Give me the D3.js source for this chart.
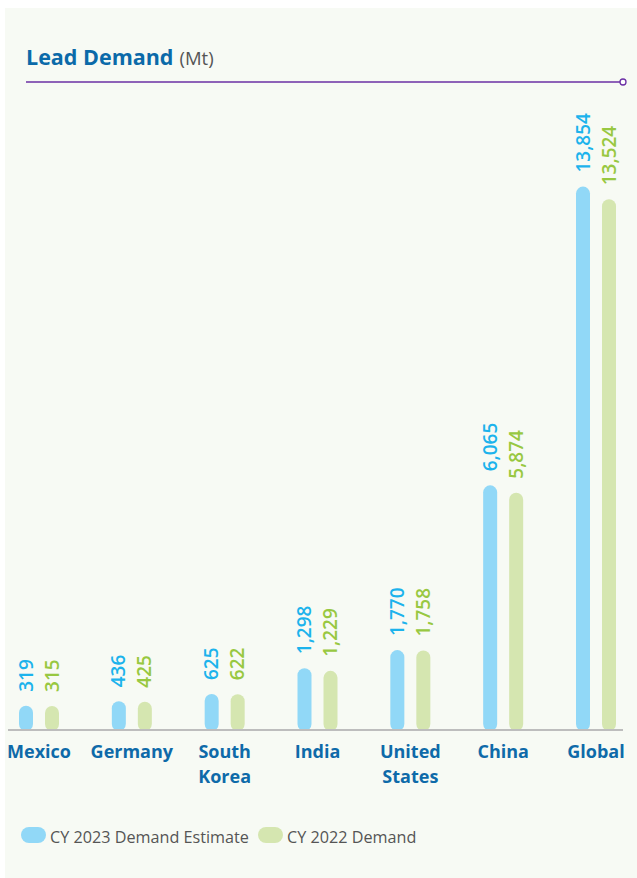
<!DOCTYPE html>
<html>
<head>
<meta charset="utf-8">
<script src="https://cdn.jsdelivr.net/npm/d3@7"></script>
<style>
  body { margin: 0; background: #fff; }
  svg { display: block; font-family: "Open Sans", sans-serif; }
</style>
</head>
<body>
<div id="chart"></div>
<script>
// data
const countries = ["Mexico", "Germany", "South Korea", "India", "United States", "China", "Global"]
const countryLines = [["Mexico"], ["Germany"], ["South", "Korea"], ["India"], ["United", "States"], ["China"], ["Global"]]
const demand2023 = [319, 436, 625, 1298, 1770, 6065, 13854]
const demand2022 = [315, 425, 622, 1229, 1758, 5874, 13524]
const seriesNames = ["CY 2023 Demand Estimate", "CY 2022 Demand"]

const width = 637, height = 878
const baseline = 729

const barColor = ["#91d8f7", "#d5e6b0"]
const labelColor = ["#1cb3ec", "#98c841"]

const svg = d3.select("#chart").append("svg")
  .attr("width", width)
  .attr("height", height)

// panel background
svg.append("rect")
  .attr("x", 5).attr("y", 8)
  .attr("width", width - 5).attr("height", height - 8)
  .attr("fill", "#f7faf4")

// title
const title = svg.append("text")
  .attr("x", 26).attr("y", 65)
title.append("tspan")
  .attr("font-size", "21.5px").attr("font-weight", 700).attr("fill", "#0b6aa9")
  .text("Lead Demand")
title.append("tspan")
  .attr("font-size", "18.5px").attr("fill", "#555").attr("dx", 6)
  .text("(Mt)")

svg.append("line")
  .attr("x1", 26).attr("x2", 620).attr("y1", 82).attr("y2", 82)
  .attr("stroke", "#6b2fa5").attr("stroke-width", 1.5)
svg.append("circle")
  .attr("cx", 623).attr("cy", 82).attr("r", 3)
  .attr("fill", "#fff").attr("stroke", "#6b2fa5").attr("stroke-width", 1.3)

const xScale = d3.scalePoint()
  .domain(countries)
  .range([39, 596])

const xSub = d3.scaleBand()
  .domain([0, 1])
  .range([-26, 26])

// bars carry a rounded cap so the value starts a bit above the baseline
const yScale = d3.scaleLinear()
  .domain([0, 14000])
  .range([718, 181])

const rows = countries.map((c, i) => ({ country: c, values: [demand2023[i], demand2022[i]] }))

const groups = svg.append("g")
  .selectAll("g")
  .data(rows)
  .enter().append("g")
  .attr("transform", d => `translate(${xScale(d.country)},0)`)

groups.selectAll("rect")
  .data(d => d.values.map((v, k) => ({ v, k })))
  .enter().append("rect")
  .attr("x", d => xSub(d.k) + xSub.bandwidth() / 2 - 7)
  .attr("width", 14)
  .attr("y", d => yScale(d.v))
  .attr("height", d => baseline + 2 - yScale(d.v))
  .attr("rx", 7)
  .attr("fill", d => barColor[d.k])

groups.selectAll("text.val")
  .data(d => d.values.map((v, k) => ({ v, k })))
  .enter().append("text")
  .attr("class", "val")
  .attr("transform", d => `translate(${xSub(d.k) + xSub.bandwidth() / 2},${yScale(d.v) - 14}) rotate(-90)`)
  .attr("dy", "0.35em")
  .attr("font-size", "19px")
  .attr("font-weight", 600)
  .attr("fill", d => labelColor[d.k])
  .text(d => d3.format(",")(d.v))

// baseline
svg.append("line")
  .attr("x1", 8).attr("x2", 623)
  .attr("y1", baseline + 1).attr("y2", baseline + 1)
  .attr("stroke", "#bdbdbd").attr("stroke-width", 2)

// category labels
const cats = svg.append("g")
  .selectAll("text")
  .data(countries)
  .enter().append("text")
  .attr("x", d => xScale(d))
  .attr("y", 758)
  .attr("text-anchor", "middle")
  .attr("font-size", "18px")
  .attr("font-weight", 700)
  .attr("fill", "#0e6aa9")

cats.selectAll("tspan")
  .data((d, i) => countryLines[i])
  .enter().append("tspan")
  .attr("x", function () { return xScale(d3.select(this.parentNode).datum()) })
  .attr("dy", (d, j) => j === 0 ? 0 : 25)
  .text(d => d)

// legend
const legendX = [21, 258]
const legend = svg.append("g")
  .selectAll("g")
  .data(seriesNames)
  .enter().append("g")
  .attr("transform", (d, i) => `translate(${legendX[i]},827)`)

legend.append("rect")
  .attr("width", 25).attr("height", 16).attr("rx", 8)
  .attr("fill", (d, i) => barColor[i])

legend.append("text")
  .attr("x", 29).attr("y", 16)
  .attr("font-size", "16.2px")
  .attr("fill", "#555")
  .text(d => d)
</script>
</body>
</html>
